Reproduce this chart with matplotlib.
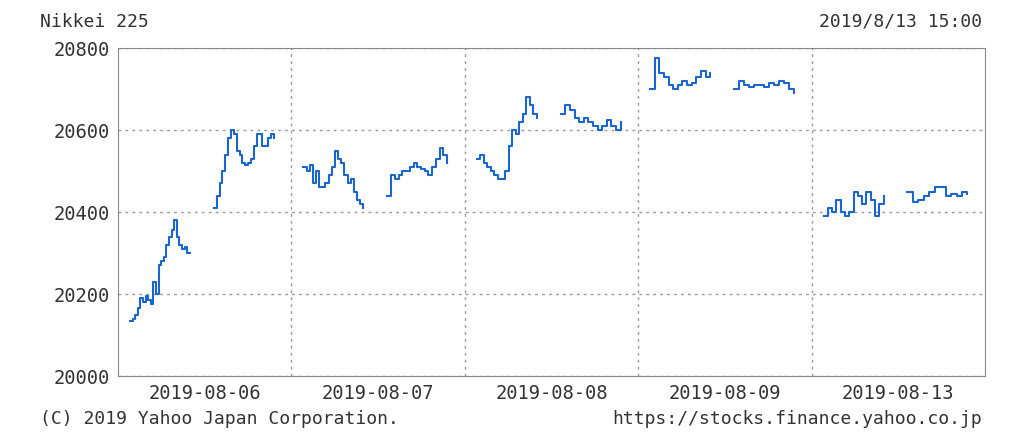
import matplotlib
matplotlib.use("Agg")
import matplotlib.pyplot as plt
import numpy as np

days = ["2019-08-06", "2019-08-07", "2019-08-08", "2019-08-09", "2019-08-13"]
am = [
    [20135,20140,20150,20165,20190,20180,20195,20185,20175,20230,20200,20270,20280,20290,20320,20340,20355,20380,20340,20320,20310,20315,20300,20300],
    [20510,20500,20515,20470,20500,20460,20460,20470,20490,20510,20550,20530,20520,20490,20470,20480,20450,20430,20420,20410],
    [20530,20540,20520,20510,20500,20490,20480,20480,20500,20560,20600,20590,20620,20640,20680,20660,20640,20630],
    [20700,20775,20740,20730,20710,20700,20710,20720,20710,20715,20730,20745,20730,20740],
    [20390,20410,20400,20430,20400,20390,20400,20450,20440,20420,20450,20430,20390,20420,20440],
]
pm = [
    [20410,20440,20470,20500,20540,20580,20600,20590,20550,20540,20520,20515,20520,20530,20560,20590,20590,20560,20560,20580,20590,20580],
    [20440,20490,20480,20490,20500,20500,20510,20520,20510,20505,20500,20490,20510,20530,20555,20540,20520],
    [20640,20660,20650,20630,20620,20630,20620,20610,20600,20610,20625,20610,20600,20620],
    [20700,20720,20710,20705,20710,20710,20705,20715,20710,20720,20715,20700,20690],
    [20450,20425,20430,20440,20450,20460,20460,20440,20445,20440,20450,20445],
]
yticks = [20000, 20200, 20400, 20600, 20800]

DAY = 434.0
AM_START, AM_END = 30, 180
PM_START, PM_END = 240, 390

fig = plt.figure(figsize=(10.24, 4.40), dpi=100)
ax = fig.add_axes([118/1024, 1-376/440, (985-118)/1024, (376-48)/440])
col = "#1a66cc"
for i in range(len(days)):
    for vals, s, e in ((am[i], AM_START, AM_END), (pm[i], PM_START, PM_END)):
        x = i*DAY + np.linspace(s, e, len(vals))
        ax.step(x, vals, where="post", color=col, lw=1.5)

ax.set_xlim(0, DAY*len(days))
ax.set_ylim(20000, 20800)
ax.set_yticks(yticks)
ax.set_yticklabels([str(v) for v in yticks])
ax.set_xticks([DAY*(i+0.5) for i in range(len(days))])
ax.set_xticklabels(days)
ax.set_xticks([DAY*i for i in range(1, len(days))], minor=True)
ax.grid(True, which="minor", axis="x", color="#999999", ls=(0, (2, 3)), lw=1)
ax.grid(True, which="major", axis="y", color="#999999", ls=(0, (2, 3)), lw=1)
ax.tick_params(which="both", length=0, labelsize=13.5, colors="#333333")
ax.tick_params(axis="x", pad=6)
ax.tick_params(axis="y", pad=6)
for sp in ax.spines.values():
    sp.set_color("#888888")
for lab in ax.get_xticklabels() + ax.get_yticklabels():
    lab.set_family("DejaVu Sans Mono")

fk = dict(family="DejaVu Sans Mono", fontsize=13, color="#333333")
fig.text(40/1024, 1-22/440, "Nikkei 225", va="center", ha="left", **fk)
fig.text(982/1024, 1-22/440, "2019/8/13 15:00", va="center", ha="right", **fk)
fig.text(40/1024, 1-419/440, "(C) 2019 Yahoo Japan Corporation.", va="center", ha="left", **fk)
fig.text(982/1024, 1-419/440, "https://stocks.finance.yahoo.co.jp", va="center", ha="right", **fk)
fig.savefig("out.png", dpi=100, facecolor="white")
